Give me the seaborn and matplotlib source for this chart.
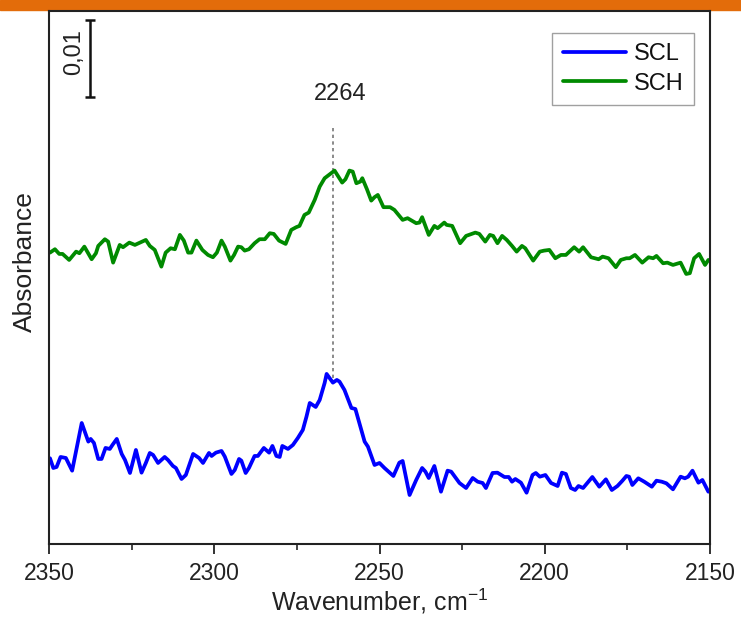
import numpy as np
import pandas as pd
import matplotlib
matplotlib.use("Agg")
import matplotlib.pyplot as plt
import seaborn as sns

# Wavenumbers (cm-1) and absorbance for the two samples
scl_wavenumber = [
    2349.7, 2348.7, 2347.7, 2346.5, 2344.9, 2343.0, 2340.1, 2338.1, 2337.4, 2336.4,
    2335.1, 2334.1, 2332.9, 2331.6, 2330.8, 2329.5, 2328.0, 2327.0, 2325.5, 2323.7,
    2322.0, 2320.7, 2319.5, 2318.5, 2317.0, 2315.0, 2314.0, 2312.5, 2311.6, 2309.9,
    2308.6, 2306.4, 2304.6, 2303.4, 2301.6, 2300.8, 2299.5, 2297.8, 2296.8, 2294.8,
    2293.8, 2292.5, 2291.8, 2290.5, 2289.5, 2287.8, 2286.8, 2285.0, 2283.4, 2282.4,
    2281.2, 2280.2, 2279.4, 2277.7, 2276.2, 2274.7, 2273.2, 2272.1, 2271.1, 2269.3,
    2268.1, 2266.6, 2266.0, 2264.1, 2262.9, 2262.1, 2260.6, 2258.5, 2257.3, 2254.5,
    2253.5, 2251.5, 2250.0, 2248.5, 2245.8, 2244.0, 2243.0, 2240.9, 2238.9, 2237.1,
    2236.1, 2235.1, 2233.4, 2231.4, 2229.4, 2228.3, 2225.8, 2223.8, 2221.8, 2220.3,
    2218.8, 2217.8, 2215.8, 2214.3, 2212.2, 2210.9, 2209.9, 2208.9, 2207.2, 2205.5,
    2203.7, 2202.7, 2201.5, 2199.8, 2198.1, 2196.1, 2194.8, 2193.6, 2192.1, 2190.8,
    2189.8, 2188.4, 2185.6, 2183.5, 2181.5, 2179.7, 2178.0, 2176.5, 2175.3, 2174.5,
    2173.5, 2171.7, 2169.9, 2167.6, 2166.2, 2164.6, 2163.2, 2161.2, 2158.9, 2157.6,
    2156.6, 2155.3, 2153.5, 2152.3, 2150.5,
]
scl_absorbance = [
    0.01113, 0.00987, 0.01000, 0.01130, 0.01117, 0.00952, 0.01571, 0.01329, 0.01364, 0.01312,
    0.01104, 0.01104, 0.01247, 0.01234, 0.01286, 0.01364, 0.01169, 0.01091, 0.00922, 0.01221,
    0.00926, 0.01052, 0.01182, 0.01156, 0.01052, 0.01130, 0.01091, 0.01013, 0.00987, 0.00844,
    0.00896, 0.01169, 0.01117, 0.01052, 0.01182, 0.01143, 0.01186, 0.01208, 0.01134, 0.00909,
    0.00961, 0.01104, 0.01082, 0.00922, 0.00987, 0.01143, 0.01143, 0.01247, 0.01186, 0.01273,
    0.01143, 0.01130, 0.01273, 0.01234, 0.01286, 0.01377, 0.01481, 0.01653, 0.01831, 0.01779,
    0.01870, 0.02091, 0.02208, 0.02095, 0.02130, 0.02108, 0.02000, 0.01766, 0.01753, 0.01329,
    0.01264, 0.01026, 0.01052, 0.00987, 0.00883, 0.01056, 0.01078, 0.00636, 0.00831, 0.00987,
    0.00939, 0.00857, 0.01013, 0.00679, 0.00952, 0.00939, 0.00792, 0.00727, 0.00857, 0.00809,
    0.00792, 0.00727, 0.00922, 0.00926, 0.00870, 0.00870, 0.00809, 0.00844, 0.00796, 0.00666,
    0.00896, 0.00922, 0.00874, 0.00896, 0.00792, 0.00753, 0.00926, 0.00909, 0.00727, 0.00701,
    0.00753, 0.00727, 0.00870, 0.00744, 0.00840, 0.00701, 0.00753, 0.00822, 0.00883, 0.00874,
    0.00766, 0.00853, 0.00809, 0.00744, 0.00822, 0.00809, 0.00788, 0.00710, 0.00874, 0.00853,
    0.00874, 0.00952, 0.00796, 0.00831, 0.00679,
]

sch_wavenumber = [
    2349.7, 2348.2, 2346.9, 2345.9, 2343.9, 2341.8, 2340.8, 2339.3, 2337.1, 2335.8,
    2335.1, 2333.1, 2332.1, 2330.6, 2328.6, 2327.6, 2325.7, 2324.0, 2322.5, 2320.7,
    2319.5, 2318.0, 2316.0, 2314.7, 2313.2, 2311.9, 2310.4, 2309.2, 2307.9, 2306.9,
    2305.4, 2303.6, 2301.9, 2300.4, 2299.2, 2297.8, 2296.8, 2295.1, 2294.0, 2292.8,
    2291.8, 2290.8, 2289.5, 2287.8, 2286.3, 2284.7, 2283.2, 2282.0, 2280.4, 2278.4,
    2276.7, 2275.2, 2274.2, 2272.7, 2271.4, 2269.6, 2268.1, 2266.6, 2265.3, 2263.6,
    2262.6, 2261.3, 2260.3, 2259.1, 2258.1, 2257.0, 2255.8, 2255.2, 2253.8, 2252.5,
    2251.5, 2250.5, 2248.8, 2246.8, 2245.5, 2243.0, 2241.5, 2238.9, 2237.9, 2237.1,
    2235.1, 2233.4, 2232.4, 2230.4, 2229.7, 2228.0, 2225.6, 2223.8, 2221.0, 2219.8,
    2218.0, 2216.6, 2215.6, 2214.3, 2212.9, 2211.5, 2209.9, 2208.5, 2206.9, 2205.9,
    2203.5, 2201.5, 2200.2, 2198.6, 2196.8, 2195.1, 2193.6, 2191.1, 2189.6, 2188.4,
    2186.0, 2183.7, 2182.5, 2180.7, 2178.5, 2177.0, 2175.3, 2174.3, 2172.7, 2170.5,
    2168.6, 2167.2, 2166.2, 2164.2, 2162.9, 2161.2, 2158.9, 2157.2, 2156.1, 2154.8,
    2153.3, 2151.5, 2150.5,
]
sch_absorbance = [
    0.03783, 0.03827, 0.03766, 0.03766, 0.03688, 0.03796, 0.03775, 0.03861, 0.03697, 0.03775,
    0.03870, 0.03957, 0.03926, 0.03653, 0.03883, 0.03853, 0.03913, 0.03883, 0.03913, 0.03948,
    0.03870, 0.03818, 0.03601, 0.03783, 0.03840, 0.03827, 0.04013, 0.03939, 0.03783, 0.03783,
    0.03939, 0.03818, 0.03753, 0.03723, 0.03783, 0.03939, 0.03861, 0.03679, 0.03753, 0.03861,
    0.03853, 0.03809, 0.03827, 0.03905, 0.03957, 0.03957, 0.04035, 0.04026, 0.03939, 0.03896,
    0.04078, 0.04113, 0.04130, 0.04273, 0.04303, 0.04468, 0.04640, 0.04749, 0.04792, 0.04848,
    0.04779, 0.04692, 0.04736, 0.04848, 0.04835, 0.04684, 0.04705, 0.04749, 0.04606, 0.04458,
    0.04503, 0.04532, 0.04373, 0.04373, 0.04338, 0.04208, 0.04230, 0.04165, 0.04173, 0.04243,
    0.04013, 0.04130, 0.04100, 0.04173, 0.04143, 0.04130, 0.03905, 0.04000, 0.04043, 0.04026,
    0.03926, 0.04013, 0.04000, 0.03905, 0.04000, 0.03948, 0.03870, 0.03796, 0.03870, 0.03840,
    0.03679, 0.03796, 0.03809, 0.03818, 0.03710, 0.03753, 0.03753, 0.03853, 0.03796, 0.03853,
    0.03723, 0.03697, 0.03731, 0.03710, 0.03594, 0.03688, 0.03710, 0.03710, 0.03753, 0.03653,
    0.03723, 0.03710, 0.03740, 0.03645, 0.03653, 0.03623, 0.03653, 0.03506, 0.03516, 0.03710,
    0.03766, 0.03623, 0.03688,
]

series_names = ["SCL", "SCH"]
series_colors = ["#0000ff", "#008a00"]
peak_position = 2264
peak_line_span = [0.02156, 0.05442]
scale_bar_value = 0.01
scale_bar_x = 2337.6
scale_bar_bottom = 0.05805
x_ticks = [2350, 2300, 2250, 2200, 2150]

df = pd.concat([
    pd.DataFrame({"Wavenumber": scl_wavenumber, "Absorbance": scl_absorbance, "Sample": "SCL"}),
    pd.DataFrame({"Wavenumber": sch_wavenumber, "Absorbance": sch_absorbance, "Sample": "SCH"}),
], ignore_index=True)

sns.set_theme(style="white")
plt.rcParams["font.family"] = ["Liberation Sans", "DejaVu Sans"]
plt.rcParams["mathtext.fontset"] = "custom"
plt.rcParams["mathtext.rm"] = "Liberation Sans"

fig = plt.figure(figsize=(7.41, 6.21), dpi=100)
fig.patch.set_facecolor("white")

# Orange header band across the top of the figure
fig.add_artist(plt.Rectangle((0, 1 - 10 / 621), 1, 10 / 621, transform=fig.transFigure,
                             color="#e36c0a", zorder=0))

ax = fig.add_axes([49 / 741, 77 / 621, 661 / 741, 533 / 621])

sns.lineplot(data=df, x="Wavenumber", y="Absorbance", hue="Sample",
             hue_order=series_names, palette=dict(zip(series_names, series_colors)),
             estimator=None, sort=True, linewidth=2.7, ax=ax, legend=False)

ax.set_xlim(2350, 2150)
ax.set_ylim(0, 0.0692)
ax.set_xticks(x_ticks)
ax.set_xticks(np.arange(2150, 2351, 25), minor=True)
ax.set_yticks([])
ax.tick_params(axis="x", which="major", direction="out", length=7, width=1.3,
               labelsize=16.5, colors="#222222", bottom=True, top=False, pad=6)
ax.tick_params(axis="x", which="minor", direction="out", length=4, width=1.2,
               bottom=True, top=False)
for spine in ax.spines.values():
    spine.set_linewidth(1.5)
    spine.set_color("#222222")

ax.set_xlabel("Wavenumber, cm$^{\\mathrm{-1}}$", fontsize=18, labelpad=1, color="#222222")
ax.set_ylabel("Absorbance", fontsize=19, labelpad=9, color="#222222")
ax.yaxis.label.set_y(0.53)

# Peak marker
ax.plot([peak_position, peak_position], peak_line_span, color="#777777",
        linestyle=(0, (2, 2)), linewidth=1.2, zorder=1)
ax.text(peak_position - 2.0, 0.05844, str(peak_position),
        ha="center", va="center", fontsize=17, color="#222222")

# Absorbance scale bar
ax.errorbar([scale_bar_x], [scale_bar_bottom + scale_bar_value / 2],
            yerr=[scale_bar_value / 2], color="#111111", elinewidth=1.8,
            capsize=3.5, capthick=1.8, fmt="none")
ax.text(scale_bar_x + 4.8, scale_bar_bottom + scale_bar_value / 2 + 0.0008, "0,01",
        rotation=90, ha="center", va="center", fontsize=17, color="#222222")

handles = [plt.Line2D([], [], color=c, linewidth=2.7) for c in series_colors]
leg = ax.legend(handles, series_names, loc="upper right", bbox_to_anchor=(0.9755, 0.959),
                fontsize=17, frameon=True, fancybox=False, handlelength=2.7,
                handletextpad=0.3, borderpad=0.45, labelspacing=0.3, borderaxespad=0)
leg.get_frame().set_edgecolor("#888888")
leg.get_frame().set_linewidth(1.0)
for t in leg.get_texts():
    t.set_color("#111111")

fig.savefig("out.png", dpi=100, facecolor="white")
